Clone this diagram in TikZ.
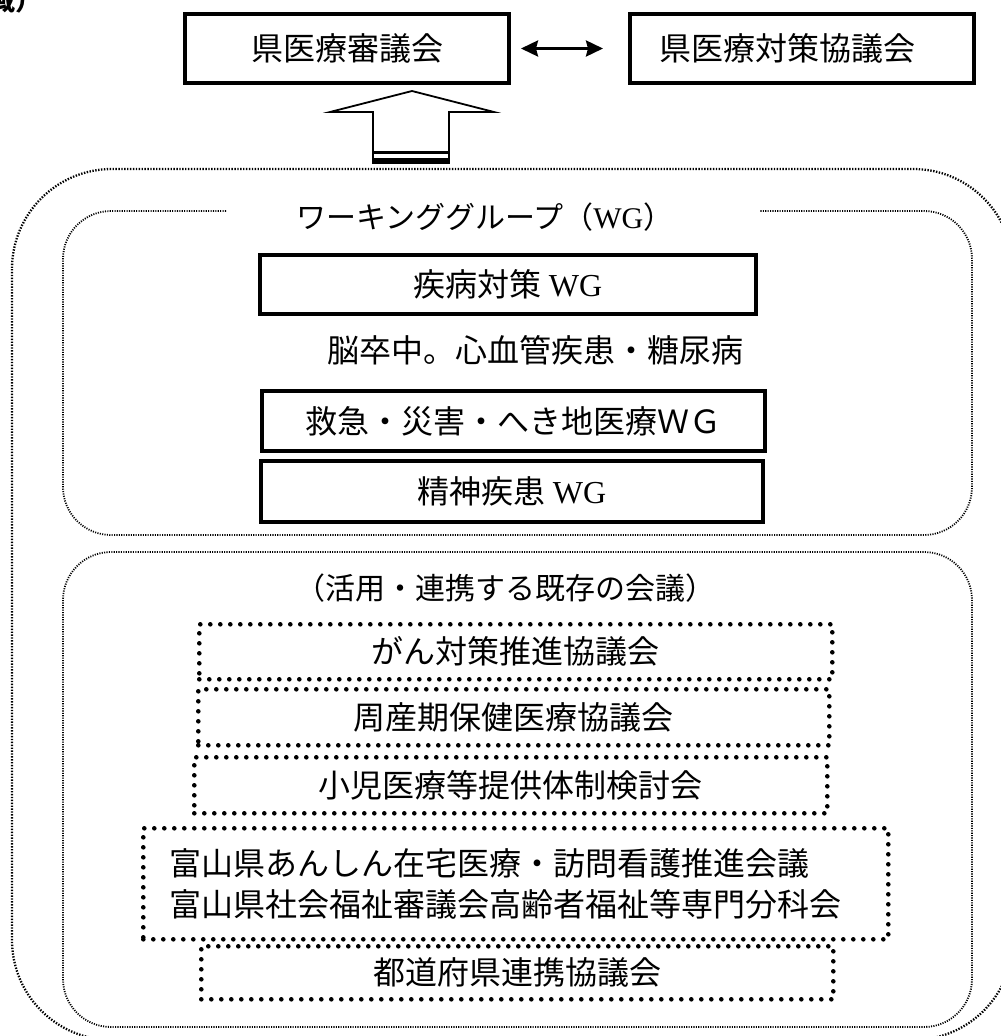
\documentclass[tikz,border=0pt]{standalone}
\usepackage{fontspec}
\newfontfamily\jp{Noto Sans CJK JP}
\newfontfamily\ltn{Liberation Serif}
\usetikzlibrary{arrows.meta}
\begin{document}
\begin{tikzpicture}[x=1pt,y=-1pt,
  txt/.style={font=\jp\fontsize{32}{41}\selectfont, inner sep=0pt},
  smalltxt/.style={font=\jp\fontsize{30}{36}\selectfont, inner sep=0pt},
  solidbox/.style={txt, draw, line width=4pt, anchor=north west},
  dotbox/.style={txt, draw, line width=4.6pt, line cap=round, dash pattern=on 0pt off 10pt, anchor=north west},
  outergrp/.style={line width=2.3pt, dash pattern=on 1.4pt off 1.5pt},
  innergrp/.style={line width=1.8pt, dash pattern=on 1.1pt off 1.3pt},
  dblarrow/.style={line width=2.8pt, {Stealth[length=17pt,width=16pt,inset=2pt]}-{Stealth[length=17pt,width=16pt,inset=2pt]}},
  blockarrow/.style={line width=1.8pt, line join=miter, fill=white}
]
\useasboundingbox (0,0) rectangle (1001,1036);

% partially visible heading
\node[font=\jp\bfseries\fontsize{26}{30}\selectfont, anchor=base west, inner sep=0pt] (title) at (-37,10) {全域）};

% top boxes
\node[solidbox, minimum width=324pt, minimum height=69pt] (A) at (183,12) {県医療審議会};
\node[solidbox, minimum width=344pt, minimum height=69pt, text width=286pt, inner xsep=29pt, align=left] (B) at (628,12) {県医療対策協議会};
\draw[dblarrow, shorten <=10pt, shorten >=25pt] (A) -- (B);

% block arrow up
\draw[blockarrow] (373,163) -- (373,112) -- (330,112) -- (412,91) -- (494,112) -- (449,112) -- (449,163) -- cycle;
\fill (373,151) rectangle (449,154);
\fill (373,157.5) rectangle (449,163.5);

% outer group
\draw[outergrp, rounded corners=100pt] (12,169) rectangle (1013,1040);

% working group frame
\draw[innergrp, rounded corners=48pt] (226,211) -- (63,211) -- (63,535) -- (972,535) -- (972,211) -- (760,211);
\node[smalltxt] (wglabel) at (485,217) {ワーキンググループ（{\ltn WG}）};

\node[solidbox, minimum width=496pt, minimum height=59pt] (wg1) at (258,253) {疾病対策 {\ltn WG}};
\node[txt] (note) at (535,350) {脳卒中。心血管疾患・糖尿病};
\node[solidbox, minimum width=503pt, minimum height=60pt] (wg2) at (260,389) {救急・災害・へき地医療ＷＧ};
\node[solidbox, minimum width=502pt, minimum height=61pt] (wg3) at (259,459) {精神疾患 {\ltn WG}};

% existing meetings frame
\draw[innergrp, rounded corners=48pt] (63,552) rectangle (972,1027);
\node[smalltxt] (exlabel) at (505,588) {（活用・連携する既存の会議）};

\node[dotbox, minimum width=633pt, minimum height=55pt] (m1) at (197,622) {がん対策推進協議会};
\node[dotbox, minimum width=631pt, minimum height=56pt] (m2) at (196,687) {周産期保健医療協議会};
\node[dotbox, minimum width=633pt, minimum height=56pt] (m3) at (192,755) {小児医療等提供体制検討会};
\node[dotbox, minimum width=745pt, minimum height=111pt, text width=693pt, inner xsep=26pt, align=left] (m4) at (141,826) {富山県あんしん在宅医療・訪問看護推進会議\\富山県社会福祉審議会高齢者福祉等専門分科会};
\node[dotbox, minimum width=632pt, minimum height=53pt] (m5) at (199,944) {都道府県連携協議会};
\end{tikzpicture}
\end{document}
